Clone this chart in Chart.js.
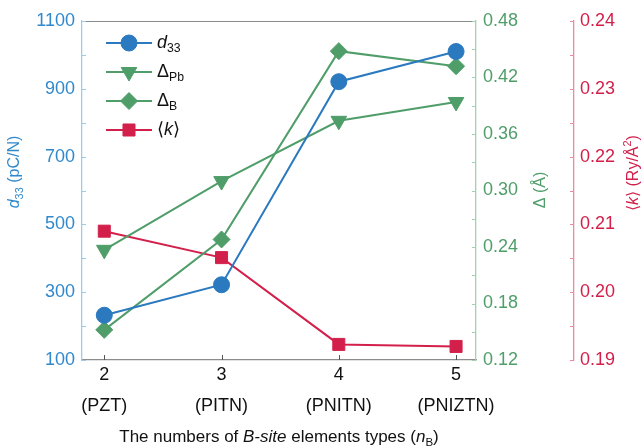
<!DOCTYPE html>
<html>
<head>
<meta charset="utf-8">
<script src="https://cdn.jsdelivr.net/npm/chart.js@4"></script>
<style>
  html, body { margin: 0; padding: 0; background: #fff; }
  #wrap { width: 644px; height: 448px; }
</style>
</head>
<body>
<div id="wrap"><canvas id="chart" width="644" height="448"></canvas></div>
<script>
// B-site element count and compound names
const nB        = [2, 3, 4, 5];
const compounds = ['(PZT)', '(PITN)', '(PNITN)', '(PNIZTN)'];

// series
const d33     = [232, 322, 921, 1010];          // pC/N
const deltaPb = [0.237, 0.310, 0.374, 0.394];   // Å
const deltaB  = [0.152, 0.248, 0.448, 0.432];   // Å
const kAvg    = [0.2090, 0.2051, 0.1923, 0.1920]; // Ry/Å²

// axis ticks
const d33Ticks   = [100, 200, 300, 400, 500, 600, 700, 800, 900, 1000, 1100];
const deltaTicks = [0.12, 0.15, 0.18, 0.21, 0.24, 0.27, 0.30, 0.33, 0.36, 0.39, 0.42, 0.45, 0.48];
const kTicks     = [0.19, 0.195, 0.20, 0.205, 0.21, 0.215, 0.22, 0.225, 0.23, 0.235, 0.24];

const FONT  = "'Liberation Sans', Arial, sans-serif";
const BLUE  = '#2b79bf';
const BLUET = '#3189cc';
const GREEN = '#4f9d69';
const RED   = '#d3204b';
const GRAY  = '#8c8c8c';

Chart.defaults.font.family = FONT;

const pts = ys => ys.map((y, i) => ({ x: nB[i], y }));

// draw a run of text pieces (italic / subscript / superscript) from x at middle baseline
function richParts(ctx, parts, size) {
  let w = 0;
  const out = parts.map(p => {
    const s = p.sub || p.sup ? size * 0.68 : size;
    const f = `${p.i ? 'italic ' : ''}${s}px ${FONT}`;
    ctx.font = f;
    const pw = ctx.measureText(p.t).width;
    const dy = p.sub ? size * 0.32 : p.sup ? -size * 0.38 : 0;
    const r = { t: p.t, f, x: w, dy };
    w += pw;
    return r;
  });
  return { out, w };
}
function drawRich(ctx, parts, x, y, size, color, align) {
  const { out, w } = richParts(ctx, parts, size);
  const x0 = align === 'center' ? x - w / 2 : x;
  ctx.fillStyle = color;
  ctx.textBaseline = 'middle';
  ctx.textAlign = 'left';
  out.forEach(r => { ctx.font = r.f; ctx.fillText(r.t, x0 + r.x, y + r.dy); });
}

const legendItems = [
  { color: BLUE,  style: 'circle',   rot: 0,   radius: 8,   parts: [{ t: 'd', i: true }, { t: '33', sub: true }] },
  { color: GREEN, style: 'triangle', rot: 180, radius: 9,   parts: [{ t: 'Δ' }, { t: 'Pb', sub: true }] },
  { color: GREEN, style: 'rectRot',  rot: 0,   radius: 8.5, parts: [{ t: 'Δ' }, { t: 'B', sub: true }] },
  { color: RED,   style: 'rect',     rot: 0,   radius: 8.5, parts: [{ t: '⟨' }, { t: 'k', i: true }, { t: '⟩' }] },
];

const decorations = {
  id: 'decorations',
  afterDraw(chart) {
    const { ctx, chartArea: a, scales } = chart;
    ctx.save();

    // frame top edge
    ctx.strokeStyle = GRAY; ctx.lineWidth = 1.2;
    ctx.beginPath(); ctx.moveTo(a.left, a.top + 0.5); ctx.lineTo(a.right, a.top + 0.5); ctx.stroke();

    // inward tick marks
    const yTicks = (scale, x, dir, color) => {
      ctx.strokeStyle = color; ctx.lineWidth = 1;
      scale.ticks.forEach(t => {
        const p = Math.round(scale.getPixelForValue(t.value)) + 0.5;
        ctx.beginPath(); ctx.moveTo(x, p); ctx.lineTo(x + dir * 4, p); ctx.stroke();
      });
    };
    yTicks(scales.y, scales.y.right, 1, '#9ccbec');
    yTicks(scales.yD, scales.yD.left, -1, '#9fd3ab');
    yTicks(scales.yK, scales.yK.left, -1, '#ef8aa2');
    ctx.strokeStyle = '#555'; ctx.lineWidth = 1;
    scales.x.ticks.forEach(t => {
      const p = Math.round(scales.x.getPixelForValue(t.value)) + 0.5;
      ctx.beginPath(); ctx.moveTo(p, a.bottom); ctx.lineTo(p, a.bottom - 5); ctx.stroke();
    });

    // legend
    legendItems.forEach((it, i) => {
      const y = 43 + i * 29;
      ctx.strokeStyle = it.color; ctx.lineWidth = 2;
      ctx.beginPath(); ctx.moveTo(106, y); ctx.lineTo(152, y); ctx.stroke();
      ctx.fillStyle = it.color; ctx.lineWidth = 1;
      Chart.helpers.drawPoint(ctx, { pointStyle: it.style, rotation: it.rot, radius: it.radius, borderWidth: 1 }, 129, y);
      drawRich(ctx, it.parts, 157, y, 18, '#111', 'left');
    });

    // x axis title
    drawRich(ctx, [
      { t: 'The numbers of ' }, { t: 'B-site', i: true }, { t: ' elements types (' },
      { t: 'n', i: true }, { t: 'B', sub: true }, { t: ')' }
    ], (a.left + a.right) / 2, 437, 17, '#111', 'center');

    // rotated y axis titles
    const vTitle = (parts, x, y, color) => {
      ctx.save(); ctx.translate(x, y); ctx.rotate(-Math.PI / 2);
      drawRich(ctx, parts, 0, 0, 16, color, 'center');
      ctx.restore();
    };
    vTitle([{ t: 'd', i: true }, { t: '33', sub: true }, { t: ' (pC/N)' }], 15, 172, BLUET);
    vTitle([{ t: 'Δ (Å)' }], 541, 190, GREEN);
    vTitle([{ t: '⟨' }, { t: 'k', i: true }, { t: '⟩ (Ry/Å' }, { t: '2', sup: true }, { t: ')' }], 634, 173, RED);

    ctx.restore();
  }
};

const series = (label, data, color, style, rot, radius, axis) => ({
  label, data: pts(data), yAxisID: axis,
  borderColor: color, backgroundColor: color, borderWidth: 2,
  pointStyle: style, rotation: rot, pointRadius: radius, pointHoverRadius: radius,
  pointBorderWidth: 1, tension: 0, clip: false,
});

new Chart(document.getElementById('chart'), {
  type: 'line',
  data: {
    datasets: [
      series('d33', d33, BLUE, 'circle', 0, 8, 'y'),
      series('ΔPb', deltaPb, GREEN, 'triangle', 180, 9, 'yD'),
      series('ΔB', deltaB, GREEN, 'rectRot', 0, 8.5, 'yD'),
      series('k', kAvg, RED, 'rect', 0, 8.5, 'yK'),
    ],
  },
  options: {
    responsive: false,
    animation: false,
    layout: { padding: { top: 21, left: 0, right: 0, bottom: 0 } },
    plugins: { legend: { display: false }, tooltip: { enabled: false } },
    scales: {
      x: {
        type: 'linear', min: 1.81, max: 5.17,
        afterBuildTicks: s => { s.ticks = nB.map(v => ({ value: v })); },
        afterFit: s => { s.height = 88; },
        ticks: {
          autoSkip: false, maxRotation: 0, padding: 0, color: '#111',
          font: { size: 18, lineHeight: 1.72 },
          callback: (v, i) => [String(v), compounds[i]],
        },
        grid: { display: false, drawTicks: false },
        border: { color: GRAY, width: 1.3 },
      },
      y: {
        position: 'left', min: 100, max: 1100,
        afterBuildTicks: s => { s.ticks = d33Ticks.map(v => ({ value: v })); },
        afterFit: s => { s.width = 82; },
        ticks: {
          padding: 7, color: BLUET, font: { size: 18 },
          callback: v => ((v - 100) % 200 === 0 ? String(v) : ''),
        },
        grid: { display: false, drawTicks: false },
        border: { color: '#9ccbec', width: 1.3 },
      },
      yD: {
        position: 'right', weight: 0, min: 0.12, max: 0.48,
        afterBuildTicks: s => { s.ticks = deltaTicks.map(v => ({ value: v })); },
        afterFit: s => { s.width = 98; },
        ticks: {
          padding: 7, color: GREEN, font: { size: 18 },
          callback: v => (Math.round(v * 100) % 6 === 0 ? v.toFixed(2) : ''),
        },
        grid: { display: false, drawTicks: false },
        border: { color: '#9fd3ab', width: 1.3 },
      },
      yK: {
        position: 'right', weight: 1, min: 0.19, max: 0.24,
        afterBuildTicks: s => { s.ticks = kTicks.map(v => ({ value: v })); },
        afterFit: s => { s.width = 70; },
        ticks: {
          padding: 6, color: RED, font: { size: 18 },
          callback: v => (Math.round(v * 1000) % 10 === 0 ? v.toFixed(2) : ''),
        },
        grid: { display: false, drawTicks: false },
        border: { color: '#ef8aa2', width: 1.3 },
      },
    },
  },
  plugins: [decorations],
});
</script>
</body>
</html>
